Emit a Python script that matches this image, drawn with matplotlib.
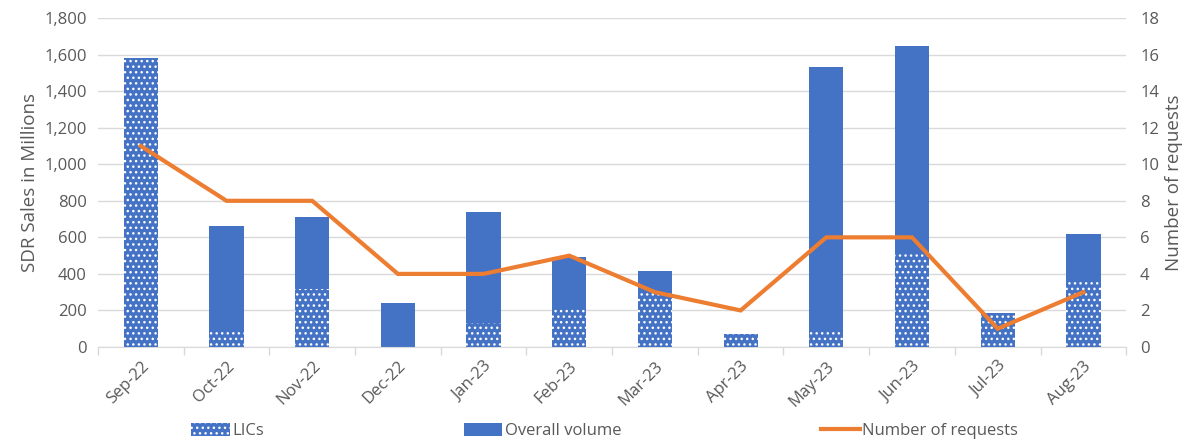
import numpy as np
import matplotlib.pyplot as plt

plt.rcParams['font.family'] = ['Open Sans', 'DejaVu Sans']
plt.rcParams['hatch.color'] = 'white'
plt.rcParams['hatch.linewidth'] = 1.0

# data
months = ['Sep-22', 'Oct-22', 'Nov-22', 'Dec-22', 'Jan-23', 'Feb-23',
          'Mar-23', 'Apr-23', 'May-23', 'Jun-23', 'Jul-23', 'Aug-23']
overall = [1580, 663, 711, 241, 738, 492, 416, 69, 1532, 1645, 184, 616]
lics = [1580, 84, 317, 0, 130, 208, 294, 69, 84, 518, 184, 366]
requests = [11, 8, 8, 4, 4, 5, 3, 2, 6, 6, 1, 3]

blue = '#4472C4'
orange = '#ED7D31'
grey = '#595959'

fig = plt.figure(figsize=(11.88, 4.42), dpi=100)
ax = fig.add_axes([0.0825, 0.215, 0.8655, 0.744])
x = np.arange(len(months))

ax.bar(x, overall, width=0.4, color=blue, linewidth=0, zorder=2, label='Overall volume')
ax.bar(x, lics, width=0.4, color=blue, hatch='...', linewidth=0, zorder=3, label='LICs')

ax.set_ylim(0, 1800)
ax.set_yticks(np.arange(0, 1801, 200))
ax.set_yticklabels(['{:,}'.format(v) for v in range(0, 1801, 200)])
ax.set_xlim(-0.5, len(months) - 0.5)
ax.set_xticks(x)
ax.set_xticklabels(months, rotation=45, ha='right', rotation_mode='anchor')
ax.set_xticks(np.arange(-0.5, len(months)), minor=True)
ax.tick_params(axis='x', which='major', length=0, pad=8, labelsize=12, colors=grey)
ax.tick_params(axis='x', which='minor', length=6, color='#d9d9d9', width=1)
ax.tick_params(axis='y', length=0, labelsize=12, colors=grey, pad=8)
ax.grid(axis='y', color='#d9d9d9', linewidth=1, zorder=0)
ax.set_axisbelow(True)
for s in ['top', 'right', 'left']:
    ax.spines[s].set_visible(False)
ax.spines['bottom'].set_color('#d9d9d9')
ax.set_ylabel('SDR Sales in Millions', fontsize=13.5, color=grey)

ax2 = ax.twinx()
ax2.plot(x, requests, color=orange, linewidth=3, label='Number of requests',
         solid_joinstyle='miter')
ax2.set_ylim(0, 18)
ax2.set_yticks(np.arange(0, 19, 2))
ax2.tick_params(axis='y', length=0, labelsize=12, colors=grey, pad=10)
for s in ax2.spines.values():
    s.set_visible(False)
ax2.set_ylabel('Number of requests', fontsize=13.5, color=grey, labelpad=4)

h1, l1 = ax.get_legend_handles_labels()
h2, l2 = ax2.get_legend_handles_labels()
handles = [h1[1], h1[0], h2[0]]
labels = [l1[1], l1[0], l2[0]]
fig.legend(handles, labels, loc='center', bbox_to_anchor=(0.509, 0.025), ncol=3,
           frameon=False, fontsize=12, labelcolor=grey, handlelength=2.3,
           handleheight=0.8, handletextpad=0.15, columnspacing=12.0)

fig.savefig('out.png', dpi=100)
